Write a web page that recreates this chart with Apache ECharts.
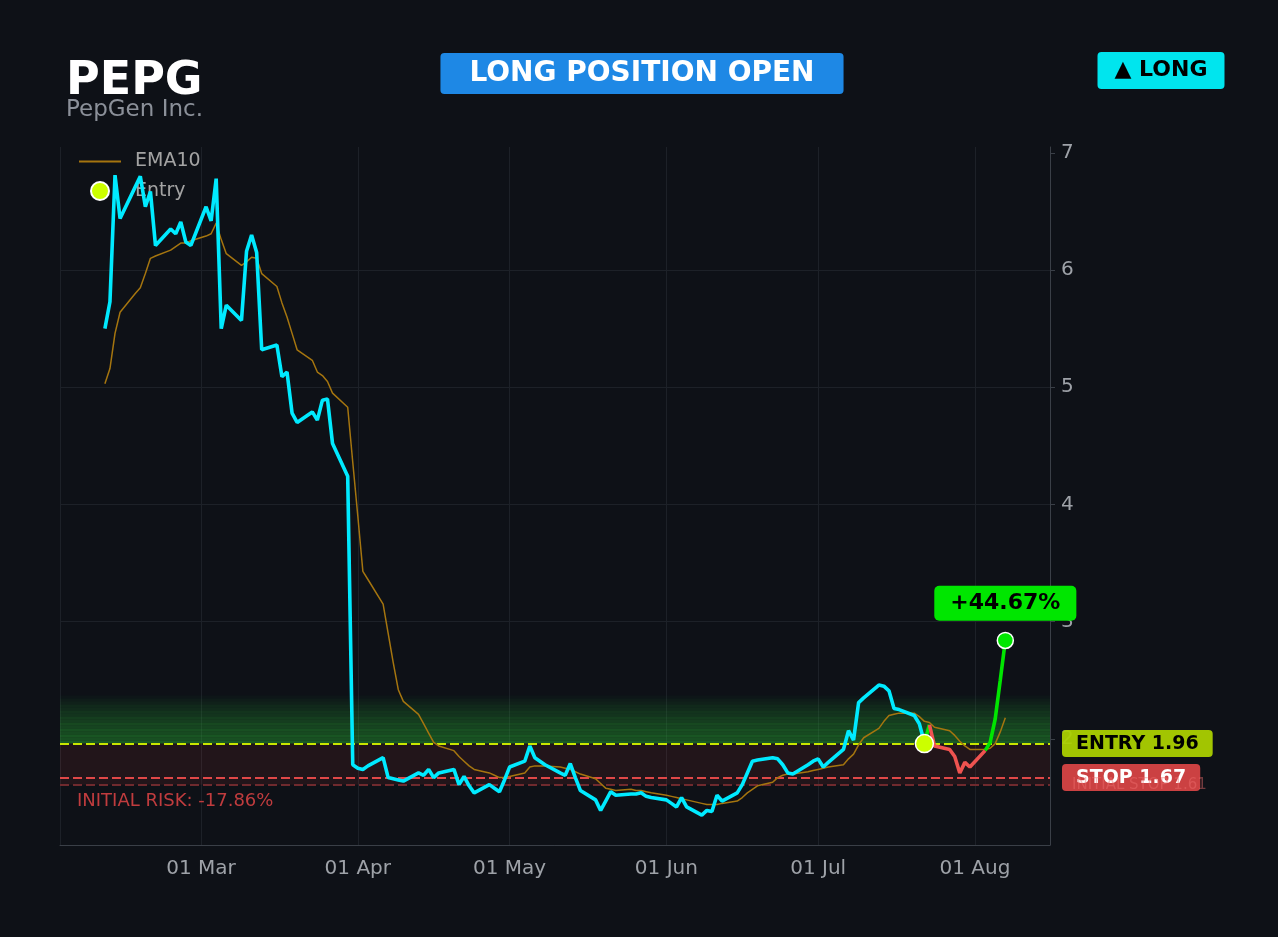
<!DOCTYPE html>
<html>
<head>
<meta charset="utf-8">
<script src="https://cdn.jsdelivr.net/npm/echarts@6/dist/echarts.min.js"></script>
<style>
  html, body { margin: 0; padding: 0; background: #0e1117; }
  #main { width: 1278px; height: 937px; }
</style>
</head>
<body>
<div id="main"></div>
<script>
const DAY = 86400000;

// sessions start on this day, one close per weekday
const firstSession = '2025-02-11';

// daily closes, one row per week
const closes = [
  5.50, 5.73, 6.81, 6.44,             // Feb 11-14
  6.71, 6.80, 6.54, 6.67, 6.21,       // Feb 17-21
  6.35, 6.31, 6.41, 6.24, 6.21,       // Feb 24-28
  6.54, 6.42, 6.78, 5.50, 5.70,       // Mar 3-7
  5.57, 6.16, 6.30, 6.15, 5.32,       // Mar 10-14
  5.36, 5.09, 5.13, 4.78, 4.70,       // Mar 17-21
  4.79, 4.72, 4.89, 4.90, 4.52,       // Mar 24-28
  4.24, 1.78, 1.75, 1.74, 1.77,       // Mar 31-Apr 4
  1.84, 1.67, 1.66, 1.65, 1.64,       // Apr 7-11
  1.71, 1.69, 1.74, 1.67, 1.71,       // Apr 14-18
  1.74, 1.61, 1.68, 1.60, 1.54,       // Apr 21-25
  1.61, 1.58, 1.55, 1.65, 1.76,       // Apr 28-May 2
  1.81, 1.94, 1.84, 1.81, 1.78,       // May 5-9
  1.71, 1.69, 1.79, 1.67, 1.56,       // May 12-16
  1.48, 1.39, 1.47, 1.55, 1.52,       // May 19-23
  1.53, 1.53, 1.54, 1.51, 1.50,       // May 26-30
  1.48, 1.45, 1.42, 1.50, 1.42,       // Jun 2-6
  1.35, 1.39, 1.38, 1.52, 1.47,       // Jun 9-13
  1.54, 1.61, 1.71, 1.81, 1.82,       // Jun 16-20
  1.84, 1.83, 1.78, 1.71, 1.70,       // Jun 23-27
  1.78, 1.81, 1.83, 1.76, 1.80,       // Jun 30-Jul 4
  1.91, 2.07, 1.99, 2.31, 2.35,       // Jul 7-11
  2.46, 2.45, 2.41, 2.26, 2.25,       // Jul 14-18
  2.20, 2.13, 1.97, 2.12, 1.94,       // Jul 21-25
  1.91, 1.85, 1.71, 1.80, 1.76,       // Jul 28-Aug 1
  1.90, 1.97, 2.17, 2.50, 2.84        // Aug 4-8
];

const ema10 = [
  5.03, 5.16, 5.46, 5.64,
  5.80, 5.85, 5.97, 6.10, 6.12,
  6.17, 6.20, 6.23, 6.23, 6.25,
  6.29, 6.31, 6.40, 6.26, 6.14,
  6.04, 6.07, 6.11, 6.10, 5.97,
  5.86, 5.72, 5.60, 5.46, 5.32,
  5.23, 5.13, 5.10, 5.05, 4.95,
  4.83, 4.36, 3.90, 3.43, 3.36,
  3.15, 2.90, 2.65, 2.42, 2.32,
  2.21, 2.13, 2.05, 1.97, 1.94,
  1.90, 1.85, 1.81, 1.77, 1.74,
  1.71, 1.69, 1.67, 1.67, 1.68,
  1.71, 1.76, 1.77, 1.77, 1.77,
  1.76, 1.75, 1.74, 1.72, 1.70,
  1.66, 1.62, 1.58, 1.57, 1.56,
  1.57, 1.56, 1.56, 1.55, 1.54,
  1.52, 1.51, 1.50, 1.49, 1.48,
  1.45, 1.44, 1.44, 1.44, 1.45,
  1.47, 1.50, 1.54, 1.57, 1.60,
  1.63, 1.67, 1.69, 1.70, 1.70,
  1.72, 1.73, 1.74, 1.75, 1.76,
  1.78, 1.83, 1.87, 1.95, 2.01,
  2.09, 2.15, 2.20, 2.21, 2.22,
  2.22, 2.19, 2.15, 2.14, 2.10,
  2.07, 2.03, 1.98, 1.94, 1.91,
  1.91, 1.92, 1.96, 2.06, 2.18
];

const entryDate = '2025-07-23';
const entryPrice = 1.96;
const stopPrice = 1.67;
const initialStop = 1.61;
const gainPct = 44.67;

const yTicks = [2, 3, 4, 5, 6, 7];
const monthNames = ['Jan', 'Feb', 'Mar', 'Apr', 'May', 'Jun', 'Jul', 'Aug', 'Sep', 'Oct', 'Nov', 'Dec'];

function weekdays(start, n) {
  const out = [];
  const d = new Date(start + 'T00:00:00');
  while (out.length < n) {
    const wd = d.getDay();
    if (wd !== 0 && wd !== 6) out.push(d.getTime());
    d.setDate(d.getDate() + 1);
  }
  return out;
}
const toTime = s => new Date(s + 'T00:00:00').getTime();

const dates = weekdays(firstSession, closes.length);
// the source stamps each close one day before its session
const xs = dates.map(t => t - DAY);
const entryIdx = dates.indexOf(toTime(entryDate));
const lastIdx = closes.length - 1;

const pricePts = xs.map((x, i) => [x, closes[i]]);
const emaPts = xs.map((x, i) => [x, ema10[i]]);
const beforeEntry = pricePts.slice(0, entryIdx + 1);

// after entry each segment takes the colour of where it ends
const upSeg = xs.map(x => [x, null]);
const downSeg = xs.map(x => [x, null]);
for (let i = entryIdx; i < lastIdx; i++) {
  const target = closes[i + 1] >= entryPrice ? upSeg : downSeg;
  target[i] = pricePts[i];
  target[i + 1] = pricePts[i + 1];
}

// faded profit glow above the entry, drawn as thin stacked bands
const glowTop = 2.37, glowSteps = 16, glow = [];
for (let k = 0; k < glowSteps; k++) {
  const lo = entryPrice + (glowTop - entryPrice) * k / glowSteps;
  const hi = entryPrice + (glowTop - entryPrice) * (k + 1) / glowSteps;
  const t = k / glowSteps;
  const a = (0.47 * (1 - Math.pow(t, 1.4)) * (k % 2 ? 0.88 : 1)).toFixed(3);
  glow.push([{ yAxis: lo, itemStyle: { color: 'rgba(40,172,52,' + a + ')' } }, { yAxis: hi }]);
}

const font = 'DejaVu Sans';
const riskPct = ((initialStop - entryPrice) / entryPrice * 100).toFixed(2);

const chart = echarts.init(document.getElementById('main'));
const option = {
  backgroundColor: '#0e1117',
  animation: false,
  textStyle: { fontFamily: font },
  grid: { left: 60, right: 228, top: 147, bottom: 92 },
  legend: {
    data: [
      { name: 'EMA10', itemStyle: { opacity: 0 } },
      { name: 'Entry' }
    ],
    orient: 'vertical',
    left: 73, top: 147,
    z: 1,
    itemWidth: 42, itemHeight: 18, itemGap: 10,
    textStyle: { color: '#a3a3a3', fontSize: 19, fontFamily: font, padding: [0, 0, 0, 9] }
  },
  xAxis: {
    type: 'time',
    min: new Date(2025, 1, 1, 3).getTime(),
    max: new Date(2025, 7, 15, 20).getTime(),
    minInterval: 28 * DAY,
    maxInterval: 31 * DAY,
    axisLine: { show: true, lineStyle: { color: '#3a3f47' } },
    axisTick: { show: false },
    splitLine: { show: true, lineStyle: { color: '#1d2128' } },
    axisLabel: {
      color: '#9ea2a8', fontSize: 20, fontFamily: font, margin: 14,
      formatter: v => {
        const d = new Date(v);
        return String(d.getDate()).padStart(2, '0') + ' ' + monthNames[d.getMonth()];
      }
    }
  },
  yAxis: {
    type: 'value',
    position: 'right',
    min: 1.095, max: 7.05,
    axisLine: { show: true, lineStyle: { color: '#3a3f47' } },
    axisTick: { show: true, length: 5, lineStyle: { color: '#3a3f47' }, customValues: yTicks },
    splitLine: { show: true, showMinLine: false, showMaxLine: false, lineStyle: { color: '#1d2128' } },
    axisLabel: { customValues: yTicks, color: '#9ea2a8', fontSize: 20, fontFamily: font, margin: 11 }
  },
  graphic: [
    { type: 'text', left: 66, top: 59, z: 10,
      style: { text: 'PEPG', fill: '#ffffff', font: 'bold 46px "DejaVu Sans"' } },
    { type: 'text', left: 66, top: 99, z: 10,
      style: { text: 'PepGen Inc.', fill: '#8b9099', font: '23px "DejaVu Sans"' } },
    { type: 'text', x: 642, y: 73.5, z: 10,
      style: { text: 'LONG POSITION OPEN', fill: '#ffffff', font: 'bold 28px "DejaVu Sans"',
        align: 'center', verticalAlign: 'middle', backgroundColor: '#1e88e5',
        padding: [5, 29], lineHeight: 31, borderRadius: 4 } },
    { type: 'text', x: 1161, y: 70.5, z: 10,
      style: { text: '▲ LONG', fill: '#000000', font: 'bold 22px "DejaVu Sans"',
        align: 'center', verticalAlign: 'middle', backgroundColor: '#00e5ee',
        padding: [5, 17], lineHeight: 27, borderRadius: 4 } },
    { type: 'text', left: 77, top: 792, z: 10,
      style: { text: 'INITIAL RISK: ' + riskPct + '%', fill: '#c03c3e', font: '18px "DejaVu Sans"' } }
  ],
  series: [
    {
      name: 'levels', type: 'line', data: [], z: 1, silent: true, clip: false,
      markArea: {
        silent: true, z: 1,
        data: glow.concat([[
          { yAxis: initialStop, itemStyle: { color: 'rgba(239,68,68,0.09)' } },
          { yAxis: entryPrice }
        ]])
      },
      markLine: {
        silent: true, symbol: 'none', z: 1,
        data: [
          { yAxis: entryPrice,
            lineStyle: { color: '#c8e600', type: [9, 4], width: 2 },
            label: { show: true, position: 'end', distance: 12, formatter: 'ENTRY ' + entryPrice.toFixed(2),
              color: '#000', fontWeight: 'bold', fontSize: 19, fontFamily: font,
              backgroundColor: 'rgba(172,208,0,0.94)', padding: [4, 14], borderRadius: 4 } },
          { yAxis: stopPrice,
            lineStyle: { color: '#e04848', type: [9, 4], width: 2 },
            label: { show: true, position: 'end', distance: 12, formatter: 'STOP ' + stopPrice.toFixed(2),
              color: '#fff', fontWeight: 'bold', fontSize: 19, fontFamily: font,
              backgroundColor: 'rgba(214,69,69,0.95)', padding: [4, 14], borderRadius: 4 } },
          { yAxis: initialStop,
            lineStyle: { color: '#702a2e', type: [9, 4], width: 2 },
            label: { show: true, position: 'end', distance: 22, formatter: 'INITIAL STOP ' + initialStop.toFixed(2),
              color: 'rgba(240,110,110,0.45)', fontSize: 15, fontFamily: font } }
        ]
      }
    },
    {
      name: 'EMA10', type: 'line', data: emaPts, symbol: 'none', z: 2,
      lineStyle: { color: '#a5750f', width: 1.5 }, itemStyle: { color: '#a5750f' }
    },
    {
      name: 'price', type: 'line', data: beforeEntry, symbol: 'none', z: 3,
      lineStyle: { color: '#00eaff', width: 3.6 }
    },
    {
      name: 'up', type: 'line', data: upSeg, symbol: 'none', z: 4,
      lineStyle: { color: '#00e600', width: 3.6 }
    },
    {
      name: 'down', type: 'line', data: downSeg, symbol: 'none', z: 5,
      lineStyle: { color: '#ef5350', width: 3.6 }
    },
    {
      name: 'Entry', type: 'scatter', z: 6,
      data: [[xs[entryIdx], entryPrice]],
      symbolSize: 18,
      itemStyle: { color: '#ccff00', borderColor: '#ffffff', borderWidth: 1.5, opacity: 1 }
    },
    {
      name: 'last', type: 'scatter', z: 7,
      data: [[xs[lastIdx], closes[lastIdx]]],
      symbolSize: 16,
      itemStyle: { color: '#00e600', borderColor: '#ffffff', borderWidth: 1.5, opacity: 1 },
      label: {
        show: true, position: 'top', distance: 11,
        formatter: '+' + gainPct.toFixed(2) + '%',
        color: '#000', fontWeight: 'bold', fontSize: 22, fontFamily: font,
        backgroundColor: '#00e600', padding: [5, 16], borderRadius: 5, lineHeight: 25
      }
    }
  ]
};
chart.setOption(option);
</script>
</body>
</html>
